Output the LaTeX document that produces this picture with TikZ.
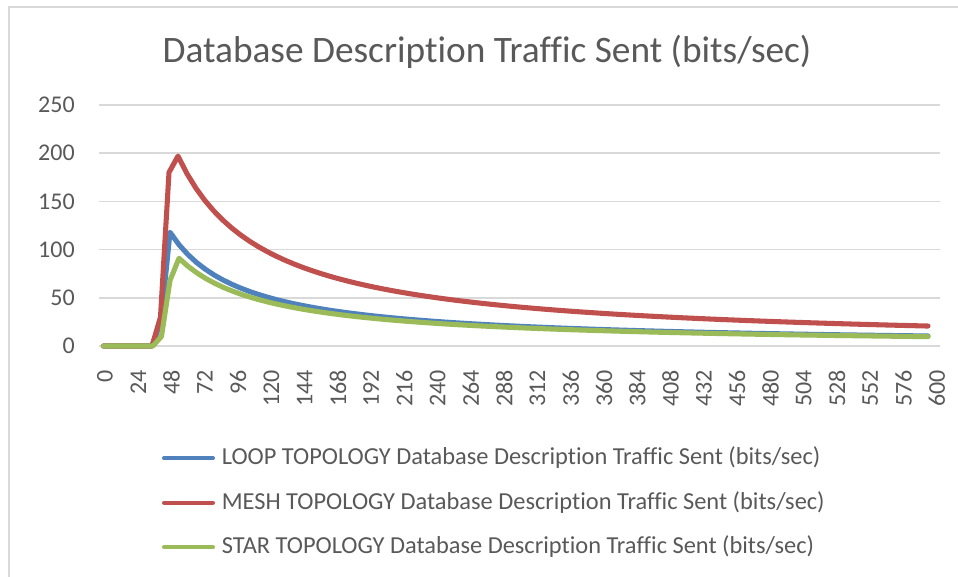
\documentclass[tikz,border=0pt]{standalone}
\usepackage{fontspec}
\setmainfont{Carlito}[Ligatures=NoCommon]
\definecolor{txtgray}{HTML}{595959}
\definecolor{gridgray}{HTML}{D9D9D9}
\definecolor{loopblue}{HTML}{4F81BD}
\definecolor{meshred}{HTML}{C0504D}
\definecolor{stargreen}{HTML}{9BBB59}
\tikzset{
  frameline/.style={draw=gridgray, line width=1.5pt},
  gridline/.style={draw=gridgray, line width=1.1pt},
  ticklabel/.style={text=txtgray, inner sep=0pt, font=\fontsize{18pt}{21pt}\selectfont},
  legendlabel/.style={text=txtgray, inner sep=0pt, font=\fontsize{18.3pt}{21pt}\selectfont},
  titlelabel/.style={text=txtgray, inner sep=0pt, font=\fontsize{28pt}{32pt}\selectfont},
  serie/.style={line width=3.8pt, line join=round, line cap=round},
  legendline/.style={line width=3pt, line cap=round},
}
\begin{document}
\begin{tikzpicture}[x=0.75pt,y=-0.75pt]
\useasboundingbox (0,0) rectangle (958,577);
\fill[white] (0,0) rectangle (958,577);
% chart frame (left and top edges)
\draw[frameline] (9.3,577) -- (9.3,6.7) -- (958,6.7);
% title
\node[titlelabel, anchor=base] (title) at (487,63) {Database Description Traffic Sent (bits/sec)};
% horizontal gridlines and value labels
\foreach \v in {0,50,...,250} {
  \draw[gridline] (99,{346-0.964*\v}) -- (940,{346-0.964*\v});
  \node[ticklabel, anchor=east] (yl\v) at (75,{346-0.964*\v}) {\v};
}
% category labels
\foreach \k in {0,...,25} {
  \pgfmathtruncatemacro\lab{24*\k}
  \node[ticklabel, rotate=90, anchor=east] (xl\k) at ({105+33.27*\k},370) {\lab};
}
% data series, in value units (decay terms written as A/((x-x0)/100))
\begin{scope}[y=0.723pt, yshift=-259.5pt]
  \draw[serie, loopblue] (103.5,0) -- (152,0) -- (161,25) -- (170,118)
    -- plot[domain=179:928, samples=86] (\x,{86.49/((\x-96.7)/100)});
  \draw[serie, meshred] (103.5,0) -- (152,0) -- (160.5,30) -- (169,180)
    -- plot[domain=178:928, samples=85] (\x,{173.56/((\x-89.9)/100)});
  \draw[serie, stargreen] (103.5,0) -- (153,0) -- (161.5,10) -- (170,68)
    -- plot[domain=179:928, samples=85] (\x,{81.35/((\x-89.6)/100)});
\end{scope}
% legend
\draw[legendline, loopblue] (164,458.3) -- (213,458.3);
\node[legendlabel, anchor=base west] (leg1) at (221.5,465) {LOOP TOPOLOGY Database Description Traffic Sent (bits/sec)};
\draw[legendline, meshred] (164,502.7) -- (213,502.7);
\node[legendlabel, anchor=base west] (leg2) at (221.5,509.5) {MESH TOPOLOGY Database Description Traffic Sent (bits/sec)};
\draw[legendline, stargreen] (164,547.3) -- (213,547.3);
\node[legendlabel, anchor=base west] (leg3) at (221.5,554) {STAR TOPOLOGY Database Description Traffic Sent (bits/sec)};
\end{tikzpicture}
\end{document}
